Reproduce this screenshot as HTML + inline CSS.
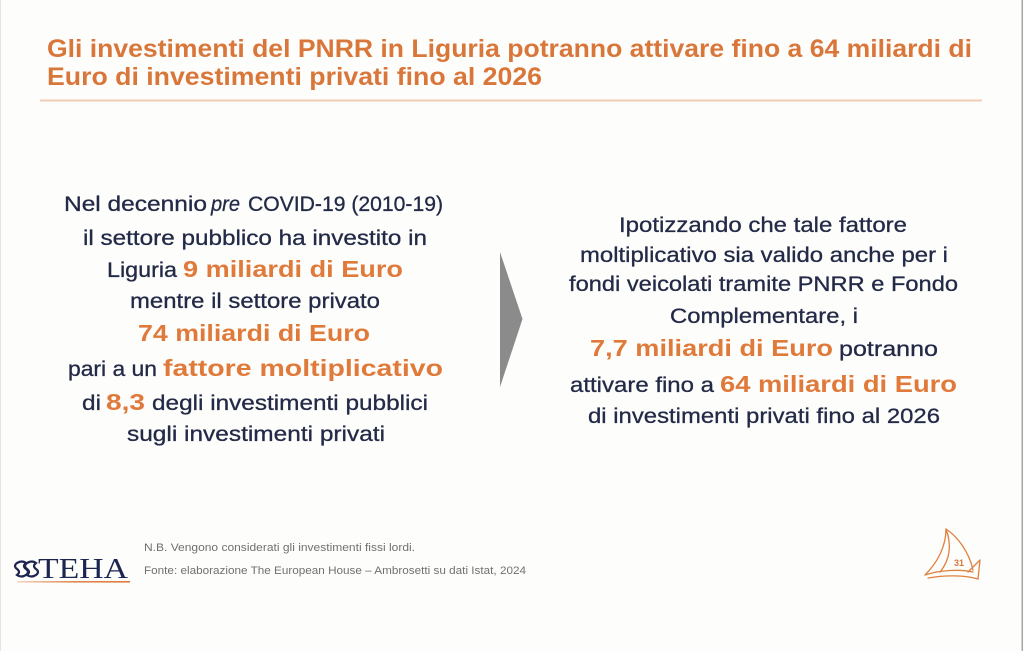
<!DOCTYPE html>
<html>
<head>
<meta charset="utf-8">
<style>
  html,body{margin:0;padding:0;background:#fdfdfb;}
  body{width:1024px;height:651px;overflow:hidden;}
  svg{display:block;}
  .t{font-family:"Liberation Sans",sans-serif;font-weight:bold;fill:#d9773b;font-size:25px;}
  .n{font-family:"Liberation Sans",sans-serif;fill:#232a47;font-size:21.5px;stroke:#232a47;stroke-width:0.3;}
  .o{font-family:"Liberation Sans",sans-serif;font-weight:bold;fill:#e07a3a;font-size:23px;}
  .f{font-family:"Liberation Sans",sans-serif;fill:#707070;font-size:11px;}
</style>
</head>
<body>
<svg width="1024" height="651" viewBox="0 0 1024 651" xmlns="http://www.w3.org/2000/svg">
  <rect x="0" y="0" width="1024" height="651" fill="#fdfdfb"/>
  <rect x="0" y="0" width="1" height="651" fill="#e4e4e4"/>
  <rect x="1021.5" y="0" width="1.5" height="651" fill="#a8a8a8"/>

  <!-- Title -->
  <text class="t" x="47" y="57" textLength="925" lengthAdjust="spacingAndGlyphs">Gli investimenti del PNRR in Liguria potranno attivare fino a 64 miliardi di</text>
  <text class="t" x="47" y="85" textLength="495" lengthAdjust="spacingAndGlyphs">Euro di investimenti privati fino al 2026</text>
  <rect x="40" y="99.5" width="942" height="2" fill="#f1cdb6"/>

  <!-- Left block -->
  <text class="n" x="64" y="211" textLength="143" lengthAdjust="spacingAndGlyphs">Nel decennio</text>
  <text class="n" x="211" y="211" textLength="29" lengthAdjust="spacingAndGlyphs" font-style="italic">pre</text>
  <text class="n" x="248" y="211" textLength="195" lengthAdjust="spacingAndGlyphs">COVID-19 (2010-19)</text>

  <text class="n" x="83" y="245" textLength="344" lengthAdjust="spacingAndGlyphs">il settore pubblico ha investito in</text>

  <text class="n" x="107" y="277" textLength="70" lengthAdjust="spacingAndGlyphs">Liguria</text>
  <text class="o" x="183" y="277" textLength="220" lengthAdjust="spacingAndGlyphs">9 miliardi di Euro</text>

  <text class="n" x="130" y="308" textLength="250" lengthAdjust="spacingAndGlyphs">mentre il settore privato</text>

  <text class="o" x="138" y="341" textLength="232" lengthAdjust="spacingAndGlyphs">74 miliardi di Euro</text>

  <text class="n" x="68" y="376" textLength="89" lengthAdjust="spacingAndGlyphs">pari a un</text>
  <text class="o" x="163" y="376" textLength="280" lengthAdjust="spacingAndGlyphs">fattore moltiplicativo</text>

  <text class="n" x="82" y="410" textLength="19" lengthAdjust="spacingAndGlyphs">di</text>
  <text class="o" x="106" y="410" textLength="39" lengthAdjust="spacingAndGlyphs">8,3</text>
  <text class="n" x="152" y="410" textLength="276" lengthAdjust="spacingAndGlyphs">degli investimenti pubblici</text>

  <text class="n" x="127" y="441" textLength="258" lengthAdjust="spacingAndGlyphs">sugli investimenti privati</text>

  <!-- Arrow -->
  <polygon points="500,252 522.5,319 500,387" fill="#8b8b8b"/>

  <!-- Right block -->
  <text class="n" x="619" y="232" textLength="288" lengthAdjust="spacingAndGlyphs">Ipotizzando che tale fattore</text>
  <text class="n" x="580" y="262" textLength="368" lengthAdjust="spacingAndGlyphs">moltiplicativo sia valido anche per i</text>
  <text class="n" x="569" y="291" textLength="389" lengthAdjust="spacingAndGlyphs">fondi veicolati tramite PNRR e Fondo</text>
  <text class="n" x="670" y="323" textLength="188" lengthAdjust="spacingAndGlyphs">Complementare, i</text>
  <text class="o" x="590" y="356" textLength="243" lengthAdjust="spacingAndGlyphs">7,7 miliardi di Euro</text>
  <text class="n" x="839" y="356" textLength="99" lengthAdjust="spacingAndGlyphs">potranno</text>
  <text class="n" x="570" y="392" textLength="144" lengthAdjust="spacingAndGlyphs">attivare fino a</text>
  <text class="o" x="720" y="392" textLength="237" lengthAdjust="spacingAndGlyphs">64 miliardi di Euro</text>
  <text class="n" x="588" y="423" textLength="352" lengthAdjust="spacingAndGlyphs">di investimenti privati fino al 2026</text>

  <!-- Footer notes -->
  <text class="f" x="144" y="551" textLength="271" lengthAdjust="spacingAndGlyphs">N.B. Vengono considerati gli investimenti fissi lordi.</text>
  <text class="f" x="144" y="574" textLength="382" lengthAdjust="spacingAndGlyphs">Fonte: elaborazione The European House – Ambrosetti su dati Istat, 2024</text>

  <!-- TEHA logo -->
  <g fill="none" stroke="#1f2550" stroke-width="2.2">
    <path d="M17,563 q5,-3 9,0 q-4,3 0,6 q4,3 0,6 q-5,3 -9,0 q4,-3 0,-6 q-4,-3 0,-6z"/>
    <path d="M27,563 q5,-3 9,0 q-4,3 0,6 q4,3 0,6 q-5,3 -9,0 q4,-3 0,-6 q-4,-3 0,-6z"/>
  </g>
  <text x="38" y="578" font-family="'Liberation Serif',serif" font-size="28" fill="#1c2450" textLength="90" lengthAdjust="spacingAndGlyphs">TEHA</text>
  <defs>
    <linearGradient id="lg" x1="0" x2="1" y1="0" y2="0">
      <stop offset="0" stop-color="#f3d7c4"/>
      <stop offset="0.5" stop-color="#e08a4e"/>
      <stop offset="1" stop-color="#e07a3a"/>
    </linearGradient>
  </defs>
  <rect x="17" y="581" width="113" height="1.6" fill="url(#lg)"/>

  <!-- Sail logo -->
  <g fill="none" stroke="#e0813f" stroke-width="1.3" stroke-linecap="round" stroke-linejoin="round">
    <path d="M946,529 C958,537 969,552 973,570"/>
    <path d="M946,529 C946,546 938,562 925,575"/>
    <path d="M946,529 C952,545 950,560 940,572"/>
    <path d="M925,575 C940,570 960,569 973,572"/>
    <path d="M928,578 C945,575 965,575 978,579"/>
    <path d="M968,572 L980,560 L978,579"/>
  </g>
  <text x="954" y="566" font-family="'Liberation Sans',sans-serif" font-weight="bold" font-size="9" fill="#d9773b">31</text>
</svg>
</body>
</html>
